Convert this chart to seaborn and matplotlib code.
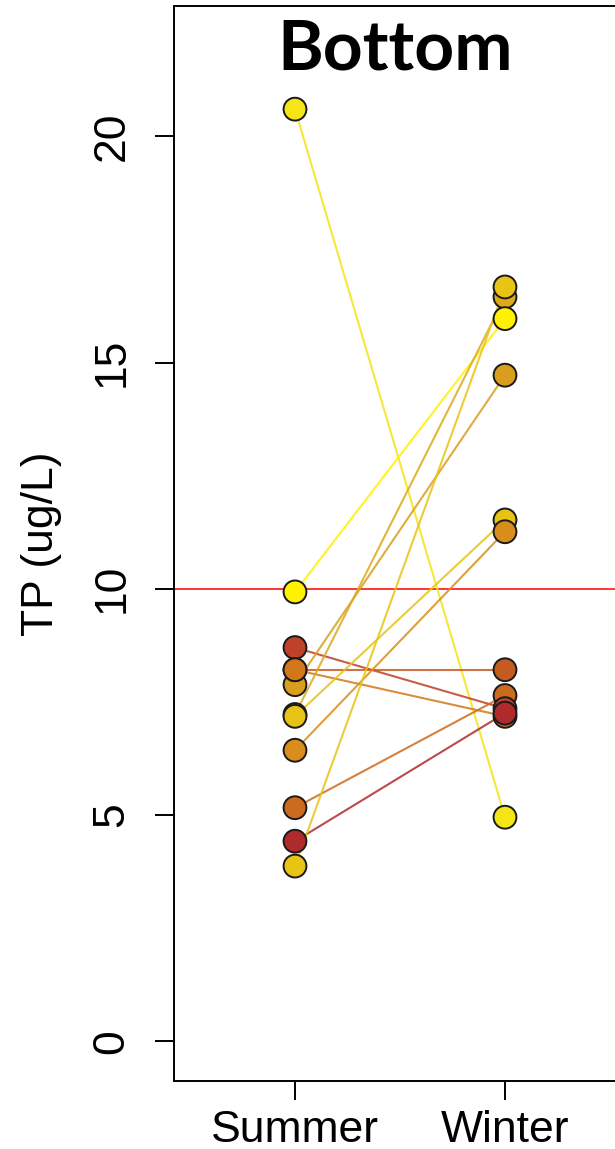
import numpy as np
import pandas as pd
import matplotlib
matplotlib.use("Agg")
import matplotlib.pyplot as plt
import seaborn as sns

# ---- data ----
seasons = ["Summer", "Winter"]
summer_tp = [20.6, 9.93, 8.70, 8.21, 8.21, 7.88, 7.22, 7.18, 6.43, 5.16, 4.42, 3.87]
winter_tp = [4.95, 15.97, 7.35, 8.21, 7.18, 14.72, 16.45, 11.52, 11.26, 7.64, 7.25, 16.67]
site_ids = list(range(12))
site_colors = ["#F4E514", "#FFF200", "#BE4128", "#C45C22", "#D2781A", "#D99E1E",
               "#DDA81C", "#E8C215", "#D98E1C", "#CC6A1E", "#AF2A2A", "#E8C415"]
threshold = 10

# draw order of points (which circle lies on top)
summer_order = [6, 7, 5, 2, 3, 4, 0, 1, 8, 9, 10, 11]
winter_order = [6, 11, 1, 5, 7, 8, 4, 9, 2, 10, 3, 0]

rows = []
for i in site_ids:
    rows.append({"site": i, "season": seasons[0], "x": 0, "tp": summer_tp[i]})
    rows.append({"site": i, "season": seasons[1], "x": 1, "tp": winter_tp[i]})
df = pd.DataFrame(rows)
palette = {i: c for i, c in zip(site_ids, site_colors)}

pts = pd.concat([
    df[df.season == "Summer"].set_index("site").loc[summer_order].reset_index(),
    df[df.season == "Winter"].set_index("site").loc[winter_order].reset_index(),
])

sns.set_style("ticks")
plt.rcParams["font.family"] = ["Liberation Sans", "DejaVu Sans"]
plt.rcParams["text.color"] = "black"

fig = plt.figure(figsize=(6.15, 11.49), dpi=100)
W, H = 615, 1149
left_px, right_px, bot_px, top_px = 174, 715, 1081, 6
ax = fig.add_axes([left_px / W, (H - bot_px) / H, (right_px - left_px) / W, (bot_px - top_px) / H])

ax.axhline(threshold, color="#FF1010", lw=1.2, zorder=1)

sns.lineplot(data=df, x="x", y="tp", hue="site", units="site", estimator=None,
             palette=palette, sort=False, lw=1.5, alpha=0.85, legend=False, ax=ax, zorder=2)
sns.scatterplot(data=pts, x="x", y="tp", hue="site", palette=palette, s=270,
                edgecolor="#1a1a1a", linewidth=1.4, alpha=1, legend=False, ax=ax, zorder=3)

ax.set_xlim(-121 / 210, (right_px - 295) / 210)
ax.set_ylim(-0.88, 22.88)
ax.set_xticks([0, 1])
ax.set_xticklabels(seasons)
ax.set_yticks([0, 5, 10, 15, 20])
ax.set_yticklabels(["0", "5", "10", "15", "20"], rotation=90, va="center")
ax.set_xlabel("")
ax.set_ylabel("TP (ug/L)", fontsize=32, color="black")
ax.yaxis.set_label_coords((62 - left_px) / (right_px - left_px), 0.5)

for s in ax.spines.values():
    s.set_linewidth(1.4)
    s.set_color("black")
ax.tick_params(axis="both", length=14, width=1.4, labelsize=32, colors="black")
ax.tick_params(axis="y", pad=16)
ax.tick_params(axis="x", pad=7)

fig.text(395 / W, 1 - 19 / H, "Bottom", ha="center", va="top", color="black",
         fontsize=50, fontweight="bold", family=["Lato", "DejaVu Sans"])

fig.savefig("out.png", dpi=100)
